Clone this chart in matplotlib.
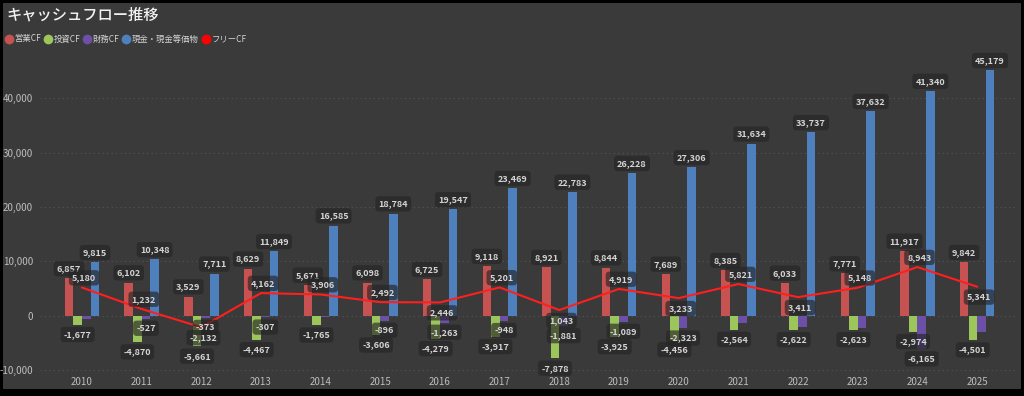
import matplotlib
matplotlib.use('Agg')
import matplotlib.pyplot as plt
from matplotlib.lines import Line2D
from matplotlib.patches import Rectangle
from matplotlib.ticker import FuncFormatter
import numpy as np

plt.rcParams['font.family'] = ['Noto Sans CJK JP', 'DejaVu Sans']

# データ
years = [2010, 2011, 2012, 2013, 2014, 2015, 2016, 2017,
         2018, 2019, 2020, 2021, 2022, 2023, 2024, 2025]
eigyo = [6857, 6102, 3529, 8629, 5671, 6098, 6725, 9118,
         8921, 8844, 7689, 8385, 6033, 7771, 11917, 9842]
toshi = [-1677, -4870, -5661, -4467, -1765, -3606, -4279, -3917,
         -7878, -3925, -4456, -2564, -2622, -2623, -2974, -4501]
zaimu = [-550, -527, -373, -307, -250, -896, -1263, -948,
         -1881, -1089, -2323, -1350, -2150, -2250, -6165, -3000]
genkin = [9815, 10348, 7711, 11849, 16585, 18784, 19547, 23469,
          22783, 26228, 27306, 31634, 33737, 37632, 41340, 45179]
free_cf = [5180, 1232, -2132, 4162, 3906, 2492, 2446, 5201,
           1043, 4919, 3233, 5821, 3411, 5148, 8943, 5341]

# ラベルを表示しない財務CFの年
zaimu_hidden = [2010, 2014, 2021, 2022, 2023, 2025]
# フリーCFのラベル位置 (1=上, 0=下)
free_above = [1, 1, 0, 1, 1, 1, 0, 1, 0, 1, 0, 1, 0, 1, 1, 0]

c_eigyo = '#c65352'
c_toshi = '#9cc55b'
c_zaimu = '#6c4fa7'
c_genkin = '#4e80bd'
c_free = '#ff1f1f'
bg = '#3a3a3a'
txt = '#d4d4d4'

fig = plt.figure(figsize=(10.24, 3.96), dpi=100, facecolor='black')
fig.patches.append(Rectangle((3/1024, 7/396), 1018/1024, 386/396,
                             transform=fig.transFigure, facecolor=bg,
                             edgecolor='none', zorder=-10))

ax = fig.add_axes([40/1024, 20/396, 977/1024, 326/396])
ax.set_facecolor(bg)
ax.patch.set_alpha(0)

x = np.array(years)
w = 0.145
series = [(eigyo, c_eigyo, -1.5), (toshi, c_toshi, -0.5),
          (zaimu, c_zaimu, 0.5), (genkin, c_genkin, 1.5)]

box = dict(boxstyle='round,pad=0.35,rounding_size=0.4', fc='#252525',
           ec='none', alpha=0.65)

for vals, col, off in series:
    ax.bar(x + off * w, vals, width=w * 0.97, color=col, zorder=2)
    for xi, yr, v in zip(x, years, vals):
        if col == c_zaimu and yr in zaimu_hidden:
            continue
        dy = 7 if v >= 0 else -7
        ax.annotate(f'{v:,}', (xi + off * w, v), xytext=(0, dy),
                    textcoords='offset points', ha='center', va='center',
                    fontsize=6.5, color=txt, fontweight='bold',
                    bbox=box, zorder=5)

ax.plot(x, free_cf, color=c_free, lw=1.5, zorder=4)
for xi, v, up in zip(x, free_cf, free_above):
    dy = 7 if up else -7.5
    ax.annotate(f'{v:,}', (xi, v), xytext=(1.5, dy),
                textcoords='offset points', ha='center', va='center',
                fontsize=6.5, color=txt, fontweight='bold',
                bbox=box, zorder=6)

ax.set_xlim(2009.296, 2025.67)
ax.set_ylim(-11100, 48900)
ax.set_xticks(years)
ax.set_yticks([-10000, 0, 10000, 20000, 30000, 40000])
ax.yaxis.set_major_formatter(FuncFormatter(lambda v, p: f'{int(v):,}'))
ax.tick_params(axis='both', length=0, colors='#bdbdbd', labelsize=7)
ax.tick_params(axis='y', pad=5)
ax.tick_params(axis='x', pad=1)
ax.grid(axis='y', color='#555555', linestyle=(0, (1, 3)), linewidth=0.8,
        zorder=0)
for s in ax.spines.values():
    s.set_visible(False)

fig.text(6/1024, 1 - 15/396, 'キャッシュフロー推移', fontsize=11,
         color='#f2f2f2', va='center', ha='left', fontweight='medium')

handles = [Line2D([], [], marker='o', ls='', color=c, markersize=6)
           for c in [c_eigyo, c_toshi, c_zaimu, c_genkin, '#ff0000']]
labels = ['営業CF', '投資CF', '財務CF', '現金・現金等価物', 'フリーCF']
fig.legend(handles, labels, loc='center left',
           bbox_to_anchor=(1 / 1024, 1 - 39/396), ncol=5, frameon=False,
           fontsize=6, labelcolor=txt, handletextpad=0.2,
           columnspacing=0.3, handlelength=1.0, borderaxespad=0)

fig.savefig('out.png', dpi=100, facecolor=fig.get_facecolor())
